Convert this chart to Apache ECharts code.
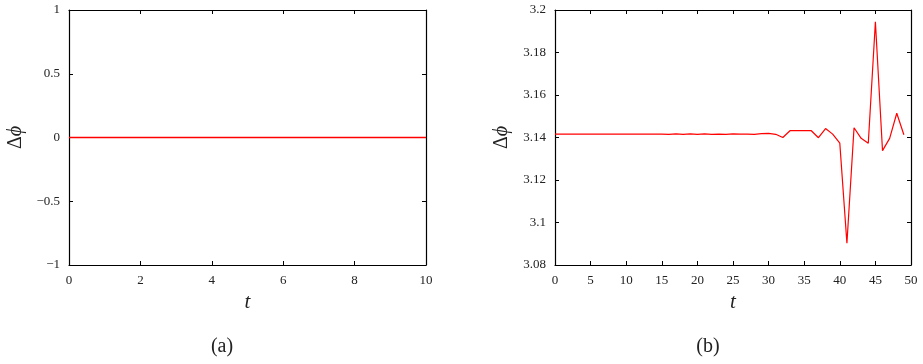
<!DOCTYPE html>
<html>
<head>
<meta charset="utf-8">
<script src="https://cdn.jsdelivr.net/npm/echarts@6/dist/echarts.min.js"></script>
<style>html,body{margin:0;padding:0;background:#fff}#c{width:923px;height:364px}</style>
</head>
<body>
<div id="c"></div>
<script>
// Panel (a)
const tA = [0, 1, 2, 3, 4, 5, 6, 7, 8, 9, 10];
const dphiA = [0, 0, 0, 0, 0, 0, 0, 0, 0, 0, 0];
const xTicksA = { min: 0, max: 10, interval: 2 };
const yTicksA = { min: -1, max: 1, interval: 0.5 };

// Panel (b)
const tB = [0,1,2,3,4,5,6,7,8,9,10,11,12,13,14,15,16,17,18,19,20,21,22,23,24,25,26,27,28,29,30,31,32,33,34,35,36,37,38,39,40,41,42,43,44,45,46,47,48,49];
const dphiB = [3.1416,3.1416,3.1416,3.1416,3.1416,3.1416,3.1416,3.1416,3.1416,3.1416,
  3.1416,3.1416,3.1416,3.1416,3.1416,3.1416,3.1415,3.1417,3.1415,3.1417,
  3.1415,3.1417,3.1415,3.1416,3.1415,3.1417,3.1416,3.1416,3.1415,3.1418,
  3.1419,3.1415,3.1400,3.1432,3.1432,3.1432,3.1432,3.1399,3.1442,3.1416,
  3.1373,3.0902,3.1446,3.1396,3.1373,3.1945,3.1338,3.1396,3.1514,3.1413];
const xTicksB = { min: 0, max: 50, interval: 5 };
const yTicksB = { min: 3.08, max: 3.2, interval: 0.02 };

const captions = ['(a)', '(b)'];

const FONT = 'Liberation Serif';
const axisLine = { show: true, onZero: false, lineStyle: { color: '#000', width: 1.2 } };
const tick = { show: true, inside: true, length: 4, lineStyle: { color: '#000', width: 1 } };
const fmtNum = v => { const s = String(+(+v).toFixed(2)); return s.replace('-', '\u2212'); };
const lbl = { color: '#222', fontFamily: FONT, fontSize: 13, margin: 9, formatter: fmtNum };

function xAxes(gi, t) {
  return [
    { type: 'value', gridIndex: gi, position: 'bottom', min: t.min, max: t.max, interval: t.interval,
      axisLine, axisTick: tick, axisLabel: lbl, splitLine: { show: false },
      name: 't', nameLocation: 'middle', nameGap: 21,
      nameTextStyle: { fontFamily: FONT, fontStyle: 'italic', fontSize: 21, color: '#222' } },
    { type: 'value', gridIndex: gi, position: 'top', min: t.min, max: t.max, interval: t.interval,
      axisLine, axisTick: tick, axisLabel: { show: false }, splitLine: { show: false } }
  ];
}
function yAxes(gi, t) {
  return [
    { type: 'value', gridIndex: gi, position: 'left', min: t.min, max: t.max, interval: t.interval,
      axisLine, axisTick: tick, axisLabel: lbl, splitLine: { show: false },
      name: '{u|\u0394}{i|\u03D5}', nameLocation: 'middle', nameGap: 43, nameRotate: 90,
      nameTextStyle: { rich: {
        u: { fontFamily: FONT, fontSize: 20, color: '#222' },
        i: { fontFamily: FONT, fontStyle: 'italic', fontSize: 20, color: '#222' } } } },
    { type: 'value', gridIndex: gi, position: 'right', min: t.min, max: t.max, interval: t.interval,
      axisLine, axisTick: tick, axisLabel: { show: false }, splitLine: { show: false } }
  ];
}

const chart = echarts.init(document.getElementById('c'), null, { renderer: 'canvas' });
chart.setOption({
  animation: false,
  backgroundColor: '#fff',
  grid: [
    { left: 69, top: 10, width: 357, height: 255 },
    { left: 555, top: 10, width: 356, height: 255 }
  ],
  xAxis: [...xAxes(0, xTicksA), ...xAxes(1, xTicksB)],
  yAxis: [...yAxes(0, yTicksA), ...yAxes(1, yTicksB)],
  series: [
    { type: 'line', xAxisIndex: 0, yAxisIndex: 0, data: tA.map((t, i) => [t, dphiA[i]]),
      showSymbol: false, z: 10, color: '#ff0000', lineStyle: { color: '#ff0000', width: 1.4 } },
    { type: 'line', xAxisIndex: 2, yAxisIndex: 2, data: tB.map((t, i) => [t, dphiB[i]]),
      showSymbol: false, z: 10, color: '#ff0000', lineStyle: { color: '#ff0000', width: 1.2 } }
  ],
  graphic: [
    { type: 'text', x: 222, y: 347, style: { text: captions[0], fontFamily: FONT, fontSize: 20, fill: '#222', textAlign: 'center', textVerticalAlign: 'middle' } },
    { type: 'text', x: 708, y: 347, style: { text: captions[1], fontFamily: FONT, fontSize: 20, fill: '#222', textAlign: 'center', textVerticalAlign: 'middle' } }
  ]
});
</script>
</body>
</html>
